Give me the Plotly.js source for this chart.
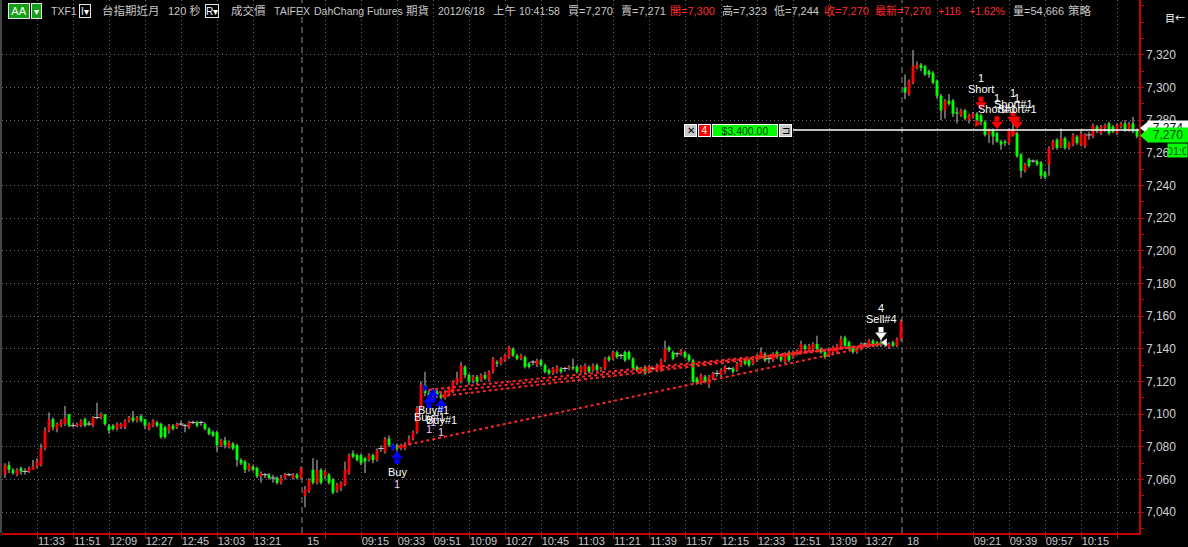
<!DOCTYPE html>
<html><head><meta charset="utf-8">
<script src="https://cdn.plot.ly/plotly-3.0.1.min.js"></script>
<style>html,body{margin:0;padding:0;background:#000;overflow:hidden}#chart{width:1188px;height:547px}</style>
</head><body><div id="chart"></div><script>
// ---------- DATA ----------
// Day 2012/6/14 (120-second bars, 10:55-13:45)
const d14Open  = [7063,7069,7066,7063,7067,7065,7065,7066,7068,7069,7079,7090,7097,7091,7093,7094,7100,7093,7093,7093,7097,7094,7093,7098,7098,7100,7093,7093,7091,7092,7092,7096,7098,7096,7099,7097,7091,7093,7095,7094,7092,7090,7093,7092,7094,7093,7092,7095,7095,7095,7094,7091,7089,7089,7081,7084,7080,7082,7081,7072,7071,7066,7068,7067,7062,7063,7063,7061,7061,7058,7061,7063,7061,7063,7061];
const d14High  = [7070,7071,7067,7067,7068,7067,7068,7072,7073,7082,7092,7101,7098,7095,7097,7105,7100,7095,7095,7097,7098,7096,7099,7107,7101,7100,7094,7094,7095,7095,7097,7099,7102,7099,7100,7097,7095,7097,7096,7095,7093,7094,7094,7095,7096,7094,7096,7096,7096,7096,7095,7092,7090,7090,7085,7086,7084,7083,7082,7073,7072,7070,7069,7068,7065,7064,7064,7063,7062,7063,7064,7064,7064,7064,7068];
const d14Low   = [7061,7064,7063,7062,7063,7063,7064,7066,7067,7068,7078,7089,7090,7089,7092,7093,7092,7092,7092,7092,7092,7093,7092,7097,7097,7093,7088,7090,7090,7091,7091,7095,7095,7095,7095,7091,7090,7092,7092,7085,7085,7088,7090,7091,7093,7089,7091,7094,7092,7093,7090,7087,7086,7077,7080,7079,7079,7078,7068,7069,7064,7065,7065,7061,7058,7061,7060,7058,7057,7057,7060,7062,7060,7060,7060];
const d14Close = [7069,7066,7064,7066,7065,7065,7067,7068,7071,7079,7090,7097,7092,7094,7096,7098,7093,7093,7094,7096,7093,7094,7098,7098,7100,7094,7090,7091,7094,7094,7096,7098,7096,7098,7096,7093,7094,7096,7093,7086,7086,7093,7091,7094,7094,7093,7095,7095,7093,7095,7091,7088,7087,7081,7084,7081,7083,7079,7072,7070,7066,7069,7066,7062,7064,7063,7061,7061,7058,7061,7063,7063,7063,7061,7067];
// Day 2012/6/15 (08:45-13:45)
const d15Open  = [7050,7053,7066,7058,7066,7062,7063,7060,7053,7055,7057,7064,7076,7075,7075,7073,7072,7075,7072,7079,7077,7085,7081,7081,7079,7079,7082,7085,7089,7104,7118,7113,7112,7114,7112,7110,7112,7114,7119,7120,7129,7124,7121,7123,7121,7124,7121,7126,7132,7131,7133,7135,7140,7136,7134,7135,7131,7132,7130,7133,7130,7127,7125,7126,7128,7128,7128,7129,7129,7126,7126,7129,7127,7130,7127,7128,7135,7134,7138,7136,7138,7138,7134,7129,7126,7129,7126,7128,7127,7127,7133,7141,7138,7137,7137,7138,7136,7133,7122,7119,7123,7118,7122,7125,7124,7126,7128,7128,7127,7130,7133,7133,7131,7133,7135,7137,7134,7133,7138,7135,7132,7138,7135,7137,7138,7142,7139,7140,7143,7140,7138,7136,7138,7138,7141,7147,7144,7141,7138,7140,7143,7142,7145,7144,7144,7143,7141,7144,7142,7146];
const d15High  = [7056,7061,7073,7072,7067,7066,7064,7061,7058,7059,7071,7076,7078,7076,7076,7074,7076,7076,7079,7081,7086,7087,7082,7082,7082,7083,7087,7090,7105,7120,7126,7115,7116,7115,7113,7115,7117,7121,7126,7132,7130,7125,7124,7124,7125,7126,7127,7135,7133,7135,7137,7142,7141,7137,7137,7136,7132,7133,7134,7134,7131,7128,7129,7130,7129,7129,7130,7134,7130,7130,7131,7130,7131,7131,7129,7135,7136,7139,7139,7137,7139,7139,7135,7130,7129,7130,7130,7129,7131,7134,7145,7142,7139,7138,7140,7139,7137,7134,7123,7125,7124,7124,7126,7127,7128,7130,7129,7129,7132,7135,7134,7134,7134,7137,7141,7138,7136,7138,7139,7136,7138,7139,7139,7140,7145,7143,7143,7144,7148,7141,7139,7141,7142,7143,7148,7148,7145,7142,7141,7144,7144,7146,7146,7145,7146,7145,7144,7145,7147,7158];
const d15Low   = [7043,7052,7057,7057,7057,7060,7057,7051,7052,7053,7056,7063,7073,7071,7069,7064,7071,7070,7071,7077,7076,7080,7078,7077,7078,7078,7081,7084,7088,7103,7111,7109,7110,7110,7109,7109,7111,7113,7118,7119,7122,7118,7119,7118,7120,7121,7120,7125,7129,7130,7132,7134,7135,7133,7133,7128,7128,7130,7129,7129,7125,7124,7124,7125,7125,7126,7127,7127,7125,7125,7125,7125,7126,7126,7126,7127,7132,7133,7134,7134,7132,7133,7127,7126,7125,7124,7125,7127,7126,7126,7132,7138,7133,7135,7136,7134,7132,7119,7118,7118,7119,7116,7121,7123,7123,7125,7127,7125,7126,7129,7130,7129,7130,7132,7134,7132,7131,7132,7134,7132,7131,7132,7134,7136,7137,7138,7138,7139,7139,7137,7134,7135,7137,7137,7140,7141,7139,7137,7137,7139,7141,7141,7141,7141,7141,7141,7140,7141,7141,7145];
const d15Close = [7054,7060,7058,7066,7058,7065,7058,7052,7057,7058,7066,7075,7074,7072,7070,7071,7075,7072,7078,7079,7085,7081,7080,7079,7081,7082,7085,7089,7104,7118,7113,7111,7115,7112,7110,7114,7116,7120,7122,7130,7124,7120,7123,7120,7124,7122,7126,7134,7131,7134,7136,7141,7136,7134,7136,7129,7129,7132,7133,7130,7126,7125,7128,7129,7126,7128,7129,7128,7126,7129,7130,7126,7130,7127,7128,7134,7133,7138,7135,7136,7133,7134,7128,7127,7128,7125,7129,7128,7130,7133,7140,7139,7134,7137,7139,7135,7133,7120,7119,7124,7120,7123,7125,7125,7127,7129,7128,7126,7131,7134,7131,7130,7133,7136,7138,7133,7134,7137,7135,7133,7137,7133,7138,7139,7143,7140,7142,7143,7140,7138,7135,7140,7141,7142,7146,7142,7140,7138,7140,7143,7143,7145,7142,7142,7143,7143,7143,7142,7146,7157];
// Day 2012/6/18 (08:45-10:42)
const d18Open  = [7300,7296,7303,7312,7314,7313,7310,7309,7304,7295,7286,7292,7292,7285,7283,7286,7280,7282,7284,7283,7279,7271,7274,7272,7267,7267,7266,7271,7272,7259,7249,7256,7255,7255,7254,7248,7253,7263,7268,7264,7269,7263,7265,7270,7265,7264,7271,7270,7276,7272,7275,7278,7276,7272,7276,7278,7274,7278,7274];
const d18High  = [7308,7305,7323,7316,7315,7314,7311,7310,7305,7296,7293,7296,7293,7288,7287,7287,7284,7285,7285,7284,7280,7275,7275,7273,7268,7268,7275,7279,7273,7260,7254,7257,7256,7256,7255,7249,7264,7268,7269,7275,7270,7267,7272,7271,7274,7272,7273,7278,7277,7277,7278,7279,7277,7278,7279,7280,7279,7282,7275];
const d18Low   = [7293,7295,7302,7311,7310,7307,7306,7302,7293,7280,7281,7289,7282,7278,7282,7280,7278,7281,7279,7277,7270,7266,7265,7266,7262,7264,7265,7270,7257,7245,7248,7251,7254,7252,7244,7244,7246,7262,7262,7263,7262,7262,7264,7265,7264,7263,7268,7269,7272,7271,7273,7271,7272,7271,7275,7273,7273,7272,7269];
const d18Close = [7297,7304,7313,7314,7312,7308,7308,7303,7295,7286,7292,7290,7284,7284,7286,7281,7283,7284,7280,7279,7271,7274,7270,7267,7265,7266,7274,7274,7258,7249,7253,7252,7255,7253,7246,7245,7263,7267,7263,7269,7263,7266,7271,7266,7272,7271,7271,7277,7274,7276,7277,7272,7273,7277,7278,7274,7278,7273,7270];

// x-axis ticks (bar index of each labelled tick) and their labels
const tickBars   = [8,17,26,35,44,53,62,75,89,98,107,116,125,134,143,152,161,170,179,188,197,206,215,225,242,251,260,269];
const tickLabels = ['11:33','11:51','12:09','12:27','12:45','13:03','13:21','15','09:15','09:33','09:51','10:09','10:27','10:45','11:03','11:21','11:39','11:57','12:15','12:33','12:51','13:09','13:27','18','09:21','09:39','09:57','10:15'];
const extraGridBars = [80,233,278];
const dayBreaks = [74.25,224.25];
const yTicks = [7040,7060,7080,7100,7120,7140,7160,7180,7200,7220,7240,7260,7280,7300,7320];

// strategy signals
const buyBars = [98,106,107,109], buyPrices = [7073,7107,7111,7105], buyLabels = ['Buy','Buy#1','Buy#1','Buy#1'], buyQty = ['1','1','1','1'];
const buyFillBars = [97,105], buyFillPrices = [7080,7116];
const sellBars = [219], sellPrices = [7150], sellLabels = ['Sell#4'], sellQty = ['4'];
const sellFillBars = [220], sellFillPrices = [7144];
const shortBars = [244,248,252,253], shortPrices = [7291,7279,7282,7279], shortLabels = ['Short','Short#1','Short#1','Short#1'], shortQty = ['1','1','1','1'];
const shortFillBars = [243,252], shortFillPrices = [7278,7272];
// closed trades: entry bar/price -> exit bar/price
const tradeEntryBars = [98,106,107,109], tradeEntryPrices = [7080,7115,7113,7111];
const tradeExitBars = [219,219,219,219], tradeExitPrices = [7143,7143,7143,7143];
// open position
const posPrice = 7274, lastPrice = 7270, posQty = '4', posPL = '$3,400.00', barCountdown = '01:0';

// header quote strip
const headerTexts  = ['TXF1','台指期近月','120 秒','成交價','TAIFEX','DahChang Futures','期貨','2012/6/18','上午','10:41:58','買=7,270','賣=7,271','開=7,300','高=7,323','低=7,244','收=7,270','最新=7,270','+116','+1.62%','量=54,666','策略'];
const headerRed    = [false,false,false,false,false,false,false,false,false,false,false,false,true,false,false,true,true,true,true,false,false];
const headerXpx    = [49,100,166,229,272,312,404,436,491,517,566,619,668,720,772,822,873,936,967,1011,1066];
const headerSize   = [10.5,11.5,11,11.5,10.5,10.5,11.5,10.5,11.5,10.5,11,11,11,11,11,11,11,10.5,10.5,11,11.5];

// ---------- BUILD ----------
const openP = d14Open.concat(d15Open, d18Open);
const highP = d14High.concat(d15High, d18High);
const lowP = d14Low.concat(d15Low, d18Low);
const closeP = d14Close.concat(d15Close, d18Close);
const idx = openP.map((_, i) => i);

const UP = '#ff0000', DOWN = '#00ff00', WICK = '#c8c8c8', AXIS = '#c80000', TXT = '#c8c8c8';
const FONT = 'Liberation Sans, Arial, "Noto Sans CJK TC", sans-serif';

const Lpx = 2, Rpx = 1139, Tpx = 0, Bpx = 533;
const X = px => (px - Lpx) / (Rpx - Lpx);
const Y = py => (Bpx - py) / (Bpx - Tpx);
const Y0 = 7027.3, Y1 = 7353.6;
const PPX = (Y1 - Y0) / (Bpx - Tpx); // price units per pixel (for marker offsets)

const bodyColor = openP.map((o, i) => closeP[i] > o ? UP : DOWN);
const dojiX = [], dojiY = [];
openP.forEach((o, i) => { if (o === closeP[i]) { dojiX.push(i); dojiY.push(o); } });

const traces = [];
const noHover = {hoverinfo:'skip', showlegend:false};
traces.push(Object.assign({type:'bar', x: idx, base: lowP, y: highP.map((h,i)=>h-lowP[i]), width: 0.25,
  marker:{color: WICK, line:{width:0}}}, noHover));
traces.push(Object.assign({type:'bar', x: idx, base: openP, y: closeP.map((c,i)=>c-openP[i]), width: 0.72,
  marker:{color: bodyColor, line:{width:0}}}, noHover));
traces.push(Object.assign({type:'scatter', mode:'markers', x: dojiX, y: dojiY,
  marker:{symbol:'line-ew', size:4, line:{color: WICK, width:1}}}, noHover));

for (let k = 0; k < tradeEntryBars.length; k++) {
  traces.push(Object.assign({type:'scatter', mode:'lines', x:[tradeEntryBars[k], tradeExitBars[k]], y:[tradeEntryPrices[k], tradeExitPrices[k]],
    line:{color:'#ff2626', width:2, dash:'dot'}}, noHover));
}
// block arrows = triangle head + square stem
function blockArrow(xs, ys, color, up) {
  const headOff = (up ? 2.5 : -2.5) * PPX, stemOff = (up ? -3 : 3) * PPX;
  traces.push(Object.assign({type:'scatter', mode:'markers', x: xs, y: ys.map(v => v + stemOff),
    marker:{symbol:'square', size:5, color: color, line:{width:0}}}, noHover));
  traces.push(Object.assign({type:'scatter', mode:'markers', x: xs, y: ys.map(v => v + headOff),
    marker:{symbol: up ? 'triangle-up' : 'triangle-down', size:10, color: color, line:{width:0}}}, noHover));
}
traces.push(Object.assign({type:'scatter', mode:'markers', x: buyFillBars, y: buyFillPrices,
  marker:{symbol:'triangle-right', size:7, color:'#0000ff'}}, noHover));
blockArrow(buyBars, buyPrices, '#0000ff', true);
traces.push(Object.assign({type:'scatter', mode:'markers', x: sellFillBars, y: sellFillPrices,
  marker:{symbol:'triangle-left', size:7, color:'#ffffff'}}, noHover));
blockArrow(sellBars, sellPrices, '#ffffff', false);
traces.push(Object.assign({type:'scatter', mode:'markers', x: shortFillBars, y: shortFillPrices,
  marker:{symbol:'triangle-right', size:7, color:'#ff0000'}}, noHover));
blockArrow(shortBars, shortPrices, '#ff0000', false);
// carrier trace for the label axis
traces.push(Object.assign({type:'scatter', mode:'markers', x:[], y:[], xaxis:'x2', yaxis:'y'}, noHover));

const annotations = [];
const ann = (o) => annotations.push(Object.assign({showarrow:false, yanchor:'middle', font:{family:FONT, size:11, color:TXT}}, o));
const pann = (px, py, o) => ann(Object.assign({x:X(px), y:Y(py), xref:'paper', yref:'paper', xanchor:'left'}, o));

// signal labels
buyBars.forEach((g, k) => {
  ann({x:g, y:buyPrices[k], xref:'x', yref:'y', text:buyLabels[k], yshift:-14, font:{family:FONT, size:11, color:'#ffffff'}});
  ann({x:g, y:buyPrices[k], xref:'x', yref:'y', text:buyQty[k], yshift:-26, font:{family:FONT, size:11, color:'#f0c8ff'}});
});
sellBars.forEach((g, k) => {
  ann({x:g, y:sellPrices[k], xref:'x', yref:'y', text:sellLabels[k], yshift:14, font:{family:FONT, size:11, color:'#ffffff'}});
  ann({x:g, y:sellPrices[k], xref:'x', yref:'y', text:sellQty[k], yshift:25, font:{family:FONT, size:11, color:'#ffffff'}});
});
shortBars.forEach((g, k) => {
  ann({x:g, y:shortPrices[k], xref:'x', yref:'y', text:shortLabels[k], yshift:13, font:{family:FONT, size:11, color:'#ffffff'}});
  ann({x:g, y:shortPrices[k], xref:'x', yref:'y', text:shortQty[k], yshift:24, font:{family:FONT, size:11, color:'#ffffff'}});
});

// header strip
pann(8, 10.5, {text:'AA', width:18, height:12, bgcolor:'#16a016', bordercolor:'#e8e8e8', borderwidth:1, borderpad:1, font:{family:FONT, size:11, color:'#ffffff'}});
pann(31, 10.5, {text:'▾', width:7, height:12, bgcolor:'#16a016', bordercolor:'#e8e8e8', borderwidth:1, borderpad:1, font:{family:FONT, size:10, color:'#ffffff'}});
pann(79, 10.5, {text:'I▾', width:10, height:12, bgcolor:'#000000', bordercolor:'#e8e8e8', borderwidth:1, borderpad:0, font:{family:FONT, size:10, color:'#ffffff'}});
pann(205, 10.5, {text:'R▾', width:12, height:12, bgcolor:'#000000', bordercolor:'#e8e8e8', borderwidth:1, borderpad:0, font:{family:FONT, size:10, color:'#ffffff'}});
headerTexts.forEach((t, k) => {
  pann(headerXpx[k], 10.5, {text:t, font:{family:FONT, size:headerSize[k], color: headerRed[k] ? '#ff2a2a' : TXT}});
});
pann(1163, 17, {text:'目←', font:{family:'"Noto Sans CJK TC", DejaVu Sans, sans-serif', size:10, color:'#ffffff'}});

// open position box
pann(684, 130, {text:'✕', width:11, height:11, bgcolor:'#c8c8c8', bordercolor:'#ffffff', borderwidth:1, borderpad:0, font:{family:FONT, size:10, color:'#000000'}});
pann(698, 130, {text:posQty, width:11, height:11, bgcolor:'#ff0000', bordercolor:'#ffffff', borderwidth:1, borderpad:0, font:{family:FONT, size:10, color:'#ffffff'}});
pann(712, 130, {text:posPL, width:64, height:11, bgcolor:'#00ff00', bordercolor:'#ffffff', borderwidth:1, borderpad:0, font:{family:FONT, size:10.5, color:'#003000'}});
pann(779, 130, {text:'⊐', width:11, height:11, bgcolor:'#c8c8c8', bordercolor:'#ffffff', borderwidth:1, borderpad:0, font:{family:FONT, size:10, color:'#000000'}});

// right-side price tags
pann(1147, 127.5, {text:posPrice.toLocaleString('en-US'), width:38, height:11, bgcolor:'#ffffff', borderpad:1, font:{family:FONT, size:12, color:'#000000'}});
pann(1147, 135.5, {text:lastPrice.toLocaleString('en-US'), width:38, height:12, bgcolor:'#00ff00', borderpad:1, font:{family:FONT, size:12, color:'#004000'}});
pann(1167, 150.5, {text:barCountdown, width:17, height:11, bgcolor:'#00ff00', borderpad:1, font:{family:FONT, size:11, color:'#004000'}});

const shapes = [];
dayBreaks.forEach(g => shapes.push({type:'line', xref:'x', yref:'paper', x0:g, x1:g, y0:0, y1:1, layer:'below',
  line:{color:'#8c8c8c', width:1, dash:'6px,4px'}}));
shapes.push({type:'line', xref:'paper', yref:'paper', x0:X(1), x1:X(1), y0:0, y1:1, line:{color:'#8c8c8c', width:1}});
shapes.push({type:'line', xref:'paper', yref:'y', x0:X(793), x1:1, y0:posPrice, y1:posPrice, layer:'above', line:{color:'#ffffff', width:1.5}});
shapes.push({type:'path', xref:'paper', yref:'paper', fillcolor:'#ffffff', line:{width:0},
  path:`M${X(1140)},${Y(128)} L${X(1148)},${Y(121.5)} L${X(1148)},${Y(134.5)} Z`});
shapes.push({type:'path', xref:'paper', yref:'paper', fillcolor:'#00ff00', line:{width:0},
  path:`M${X(1140)},${Y(135.5)} L${X(1148)},${Y(128.5)} L${X(1148)},${Y(142.5)} Z`});

const xRange = [(Lpx - 5) / 4, (Rpx - 5) / 4];
const gridBars = tickBars.filter((g, k) => tickLabels[k].length > 2).concat(extraGridBars);
const labelPos = tickBars.map((g, k) => g + (tickLabels[k].length > 2 ? 3.6 : 2));

const layout = {
  width:1188, height:547,
  margin:{l:Lpx, r:1188 - Rpx, t:Tpx, b:547 - Bpx, pad:0},
  paper_bgcolor:'#000000', plot_bgcolor:'#000000',
  barmode:'overlay', showlegend:false, hovermode:false, dragmode:false,
  font:{family:FONT, color:TXT},
  xaxis:{range:xRange, tickmode:'array', tickvals:gridBars, showticklabels:false,
    ticks:'outside', ticklen:4, tickcolor:AXIS, tickwidth:1,
    showgrid:true, gridcolor:'#6a6a6a', griddash:'1px,3px', gridwidth:1,
    showline:true, linecolor:AXIS, linewidth:1.5, zeroline:false, fixedrange:true},
  xaxis2:{overlaying:'x', range:xRange, tickmode:'array', tickvals:labelPos, ticktext:tickLabels,
    ticks:'', showgrid:false, showline:false, zeroline:false, side:'bottom', anchor:'y',
    tickfont:{family:FONT, size:11, color:TXT}, fixedrange:true},
  yaxis:{side:'right', range:[Y0, Y1], tickmode:'array', tickvals:yTicks, tickformat:',d',
    ticks:'outside', ticklen:3, tickcolor:AXIS,
    minor:{dtick:10, tick0:7030, ticks:'outside', ticklen:3, tickcolor:AXIS, showgrid:false},
    showgrid:true, gridcolor:'#6a6a6a', griddash:'1px,3px', gridwidth:1,
    showline:true, linecolor:AXIS, linewidth:1.5, zeroline:false, fixedrange:true,
    tickfont:{family:FONT, size:12, color:'#d0d0d0'}},
  annotations: annotations,
  shapes: shapes
};

Plotly.newPlot('chart', traces, layout, {staticPlot:true, displayModeBar:false});
</script></body></html>
